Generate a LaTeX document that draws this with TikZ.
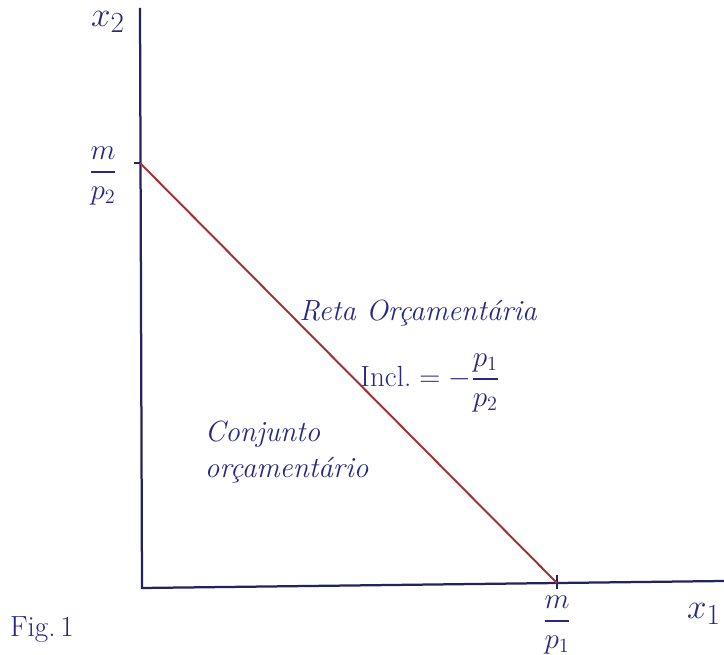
\documentclass[tikz,border=0pt]{standalone}
\usepackage{amsmath}
\usepackage{fontspec}
\usetikzlibrary{positioning}

\definecolor{tinta}{RGB}{40,40,130}
\definecolor{eixo}{RGB}{35,35,95}
\definecolor{reta}{RGB}{160,50,50}

\tikzset{
  axisline/.style={eixo, line width=1.6pt},
  budgetline/.style={reta, line width=1.4pt},
  rotulo/.style={tinta, font=\huge},
  texto/.style={tinta, font=\huge\itshape},
}

\begin{document}
\begin{tikzpicture}[x=0.025cm, y=-0.025cm]
    \useasboundingbox (0,0) rectangle (724,655);

    % Eixos
    \coordinate (O) at (142,588);
    \coordinate (topo) at (140,8);
    \coordinate (fim) at (724,581);
    \draw[axisline] (topo) -- (O) -- (fim);

    % Interceptos
    \coordinate (A) at (140,163);
    \coordinate (B) at (557,583);
    \draw[eixo, thick] (A) -- ++(-6,0);
    \draw[eixo, thick] (B) ++(0,-8) -- ++(0,14);

    % Reta orcamentaria
    \draw[budgetline] (A) -- (B);

    % Rotulos dos eixos
    \node[rotulo, font=\Huge] (x2) at (108,22) {$x_2$};
    \node[rotulo, font=\Huge] (x1) at (704,614) {$x_1$};
    \node[rotulo] (mp2) at (103,176) {$\dfrac{m}{p_2}$};
    \node[rotulo] (mp1) at (557,625) {$\dfrac{m}{p_1}$};

    % Textos
    \node[texto] (retatxt) at (418,313) {Reta Orçamentária};
    \node[rotulo] (incl) at (430,383) {Incl.${}= -\dfrac{p_1}{p_2}$};
    \node[texto, align=left, anchor=west] (conj) at (200,452) {Conjunto\\orçamentário};
    \node[rotulo] (fig) at (42,630) {Fig.\,1};
\end{tikzpicture}
\end{document}
